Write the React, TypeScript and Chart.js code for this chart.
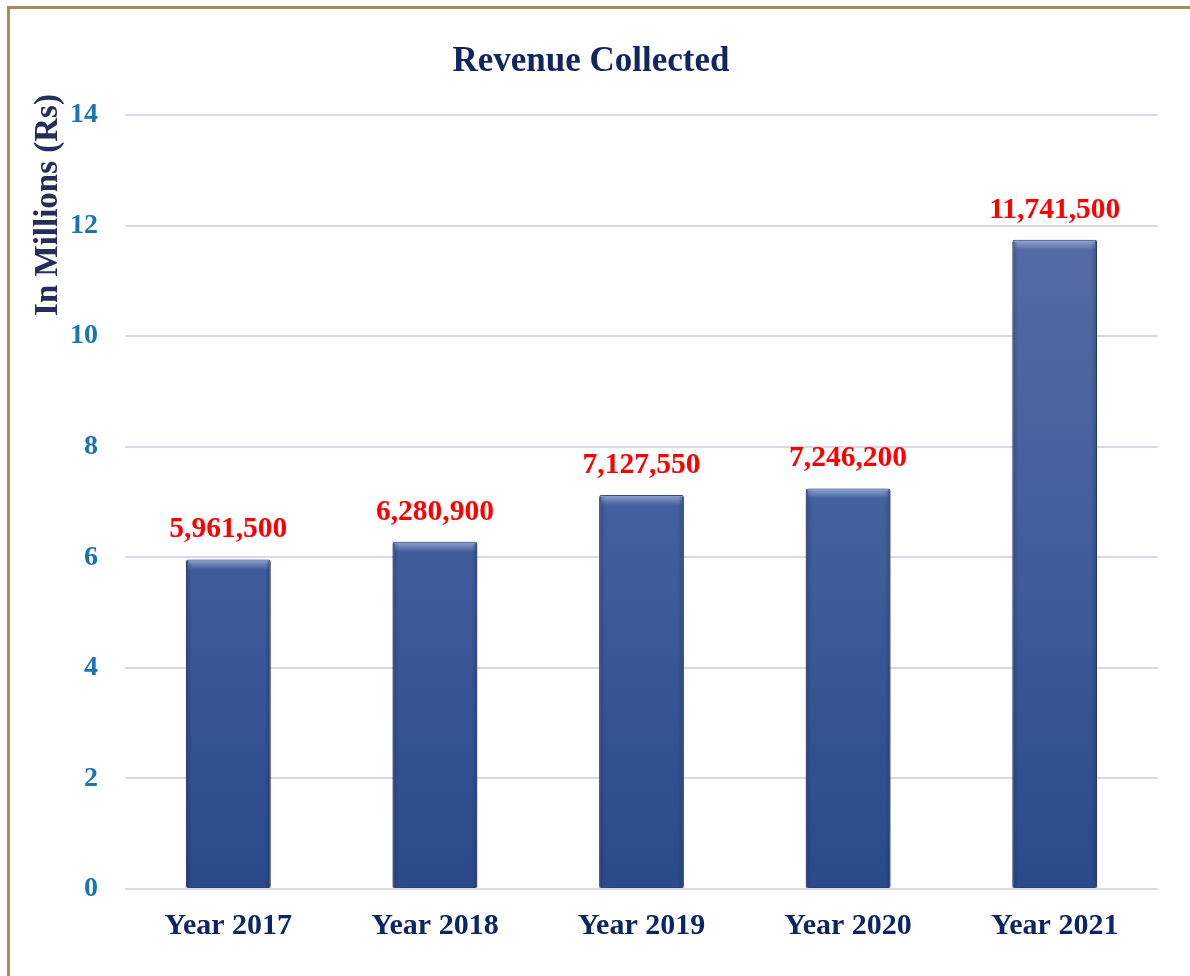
import React, { useEffect, useRef } from "react";
import { Chart, registerables } from "chart.js";

Chart.register(...registerables);

const categories = ["Year 2017", "Year 2018", "Year 2019", "Year 2020", "Year 2021"];
const revenueMillions = [5.9615, 6.2809, 7.12755, 7.2462, 11.7415];
const revenueLabels = ["5,961,500", "6,280,900", "7,127,550", "7,246,200", "11,741,500"];
const yTicks = [0, 2, 4, 6, 8, 10, 12, 14];
const chartTitle = "Revenue Collected";
const yAxisTitle = "In Millions (Rs)";

const SERIF = "'Liberation Serif', 'Times New Roman', serif";

const barExtras = {
  id: "barExtras",
  beforeDatasetsDraw(chart: any) {
    const ctx = chart.ctx;
    ctx.save();
    ctx.shadowColor = "rgba(0,0,0,0.35)";
    ctx.shadowBlur = 7;
    ctx.shadowOffsetX = 2;
    ctx.shadowOffsetY = 1;
  },
  afterDatasetsDraw(chart: any) {
    const ctx = chart.ctx;
    ctx.restore();
    const meta = chart.getDatasetMeta(0);
    ctx.save();
    meta.data.forEach((bar: any) => {
      const w = bar.width;
      const x0 = bar.x - w / 2;
      const h = bar.base - bar.y;
      const g = ctx.createLinearGradient(0, bar.y, 0, bar.y + 10);
      g.addColorStop(0, "rgba(170,190,230,0.75)");
      g.addColorStop(1, "rgba(170,190,230,0)");
      ctx.fillStyle = g;
      ctx.fillRect(x0 + 2, bar.y + 1, w - 4, 10);
      const gl = ctx.createLinearGradient(x0, 0, x0 + 6, 0);
      gl.addColorStop(0, "rgba(20,35,80,0.35)");
      gl.addColorStop(1, "rgba(20,35,80,0)");
      ctx.fillStyle = gl;
      ctx.fillRect(x0, bar.y + 2, 6, h - 2);
      const gr = ctx.createLinearGradient(x0 + w, 0, x0 + w - 6, 0);
      gr.addColorStop(0, "rgba(20,35,80,0.35)");
      gr.addColorStop(1, "rgba(20,35,80,0)");
      ctx.fillStyle = gr;
      ctx.fillRect(x0 + w - 6, bar.y + 2, 6, h - 2);
    });
    ctx.font = `bold 29.5px ${SERIF}`;
    ctx.fillStyle = "#ff0000";
    ctx.textAlign = "center";
    ctx.textBaseline = "alphabetic";
    meta.data.forEach((bar: any, i: number) => {
      ctx.fillText(revenueLabels[i], bar.x, bar.y - 22);
    });
    ctx.restore();
  },
  afterDraw(chart: any) {
    const ctx = chart.ctx;
    ctx.save();
    ctx.translate(38, 196);
    ctx.rotate(-Math.PI / 2);
    ctx.font = `bold 33px ${SERIF}`;
    ctx.fillStyle = "#262d5a";
    ctx.textAlign = "center";
    ctx.textBaseline = "middle";
    ctx.fillText(yAxisTitle, 0, 0);
    ctx.restore();
  },
};

export default function App() {
  const ref = useRef<HTMLCanvasElement | null>(null);

  useEffect(() => {
    if (!ref.current) return;
    const chart = new Chart(ref.current, {
      type: "bar",
      data: {
        labels: categories,
        datasets: [
          {
            data: revenueMillions,
            backgroundColor: (c: any) => {
              const area = c.chart.chartArea;
              if (!area) return "#3f5a9a";
              const g = c.chart.ctx.createLinearGradient(0, area.top, 0, area.bottom);
              g.addColorStop(0, "#5d70a6");
              g.addColorStop(0.5, "#44609e");
              g.addColorStop(1, "#2a4a8c");
              return g;
            },
            borderColor: "#3d5088",
            borderWidth: 1,
            borderSkipped: false,
            borderRadius: 2,
            barPercentage: 0.41,
            categoryPercentage: 1,
          },
        ],
      },
      plugins: [barExtras],
      options: {
        animation: false,
        responsive: false,
        maintainAspectRatio: false,
        layout: { padding: { left: 14, right: 32, top: 0, bottom: 0 } },
        plugins: {
          legend: { display: false },
          tooltip: { enabled: false },
          title: {
            display: true,
            text: chartTitle,
            color: "#10265e",
            font: { family: SERIF, size: 35, weight: "bold", lineHeight: 1.2 },
            padding: { top: 32, bottom: 32 },
          },
        },
        scales: {
          x: {
            grid: { display: false, drawTicks: false },
            border: { display: false },
            ticks: {
              color: "#0b2566",
              font: { family: SERIF, size: 30, weight: "bold", lineHeight: 1.2 },
              padding: 19,
            },
            afterFit: (s: any) => {
              s.height = 87;
            },
          },
          y: {
            min: 0,
            max: 14,
            afterBuildTicks: (s: any) => {
              s.ticks = yTicks.map((v) => ({ value: v }));
            },
            grid: { color: "#d9d7ea", lineWidth: 2, drawTicks: false },
            border: { display: false },
            ticks: {
              color: "#1a74b0",
              font: { family: SERIF, size: 28, weight: "bold" },
              padding: 27,
            },
            afterFit: (s: any) => {
              s.width = 101;
            },
          },
        },
      },
    });
    return () => chart.destroy();
  }, []);

  return (
    <div
      style={{
        position: "absolute",
        left: 7,
        top: 6,
        width: 1183,
        height: 970,
        borderLeft: "3px solid #9f8f5f",
        borderTop: "3px solid #9f8f5f",
        background: "#ffffff",
      }}
    >
      <canvas ref={ref} width={1180} height={967} style={{ display: "block", width: 1180, height: 967 }} />
    </div>
  );
}
